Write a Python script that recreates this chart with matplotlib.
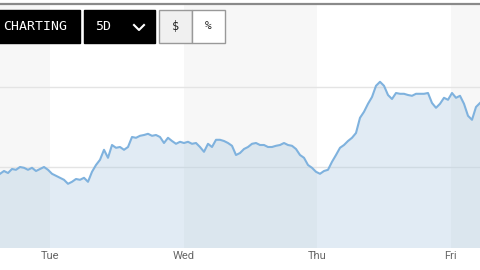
import numpy as np
import matplotlib.pyplot as plt
from matplotlib.patches import Rectangle
from matplotlib.lines import Line2D

day_labels = ["Tue", "Wed", "Thu", "Fri"]
day_ticks = [1, 2, 3, 4]
start_day = 0.625
end_day = 4.22

price = [99.83, 99.90, 99.85, 99.95, 99.93, 100.00, 99.98, 99.93, 99.98, 99.90,
         99.95, 100.00, 99.93, 99.83, 99.78, 99.73, 99.68, 99.58, 99.63, 99.70,
         99.68, 99.73, 99.63, 99.88, 100.05, 100.18, 100.43, 100.23, 100.55, 100.48,
         100.50, 100.43, 100.50, 100.75, 100.73, 100.78, 100.80, 100.83, 100.78, 100.80,
         100.75, 100.60, 100.73, 100.65, 100.58, 100.63, 100.60, 100.63, 100.58, 100.60,
         100.50, 100.38, 100.58, 100.50, 100.68, 100.68, 100.65, 100.60, 100.53, 100.30,
         100.35, 100.45, 100.50, 100.58, 100.60, 100.55, 100.55, 100.50, 100.50, 100.53,
         100.55, 100.60, 100.55, 100.53, 100.45, 100.30, 100.23, 100.05, 99.98, 99.88,
         99.83, 99.90, 99.93, 100.13, 100.30, 100.48, 100.55, 100.65, 100.73, 100.85,
         101.23, 101.38, 101.58, 101.75, 102.03, 102.13, 102.03, 101.80, 101.70, 101.85,
         101.83, 101.83, 101.80, 101.78, 101.83, 101.83, 101.83, 101.85, 101.60, 101.48,
         101.58, 101.73, 101.68, 101.85, 101.73, 101.78, 101.58, 101.28, 101.18, 101.50,
         101.60]

t = np.linspace(start_day, end_day, len(price))

fig = plt.figure(figsize=(4.8, 2.7), dpi=100)
ax = fig.add_axes([0, 248 / 270 * 0 + (1 - 248 / 270), 1, 243 / 270])

ax.set_xlim(start_day, end_day)
ax.set_ylim(97.975, 104.05)

# alternating day bands
for d in range(0, 5):
    if d % 2 == 0:
        ax.axvspan(d - 0.5 + 0.5, d + 1, color="#f7f7f7", lw=0, zorder=0)
ax.axvspan(start_day - 1, 1, color="#f7f7f7", lw=0, zorder=0)

for g in [100, 102]:
    ax.axhline(g, color="#e4e4e4", lw=1, zorder=1)

ax.fill_between(t, price, 97.975, color="#a9c8e0", alpha=0.35, lw=0, zorder=2)
ax.plot(t, price, color="#7fb2de", lw=1.5, zorder=3)

ax.set_xticks(day_ticks)
ax.set_xticklabels(day_labels, fontfamily="Roboto", fontsize=8, color="#666666")
ax.tick_params(axis="x", length=0, pad=2)
ax.set_yticks([])
for s in ax.spines.values():
    s.set_visible(False)

# top rule
fig.add_artist(Line2D([0, 1], [1 - 4 / 270, 1 - 4 / 270], color="#8a8a8a", lw=1.6))


def px_box(x0, y0, x1, y1, fc, ec=None):
    fig.add_artist(Rectangle((x0 / 480, 1 - y1 / 270), (x1 - x0) / 480, (y1 - y0) / 270,
                             facecolor=fc, edgecolor=ec if ec else fc, lw=1,
                             transform=fig.transFigure, zorder=5))


px_box(-2, 10, 80, 43, "#000000")
px_box(84, 10, 155, 43, "#000000")
px_box(159, 10, 192, 43, "#f0f0f0", "#999999")
px_box(192, 10, 225, 43, "#ffffff", "#999999")

mono = "DejaVu Sans Mono"
fig.text(35 / 480, 1 - 26.5 / 270, "CHARTING", color="white", fontsize=9.5,
         fontfamily=mono, ha="center", va="center", zorder=6)
fig.text(103 / 480, 1 - 26 / 270, "5D", color="white", fontsize=9.5,
         fontfamily=mono, ha="center", va="center", zorder=6)
fig.add_artist(Line2D([134 / 480, 139 / 480, 144 / 480],
                      [1 - 25 / 270, 1 - 30 / 270, 1 - 25 / 270],
                      color="white", lw=1.5, zorder=6))
fig.text(175.5 / 480, 1 - 26 / 270, "$", color="#222222", fontsize=8.5,
         fontfamily=mono, ha="center", va="center", zorder=6)
fig.text(208.5 / 480, 1 - 26 / 270, "%", color="#222222", fontsize=8,
         fontfamily=mono, ha="center", va="center", zorder=6)

fig.savefig("out.png", dpi=100)
